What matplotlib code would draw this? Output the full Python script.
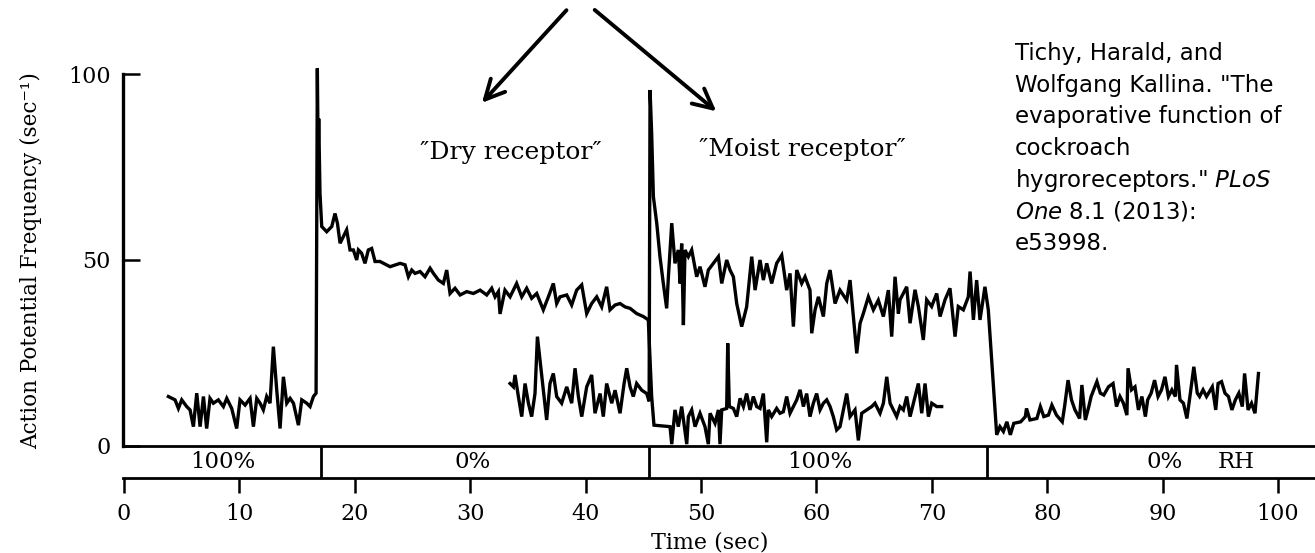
import matplotlib
matplotlib.use('Agg')
import matplotlib.pyplot as plt

# dry receptor trace (time in s, frequency in 1/s)
dry_wet1 = [(3.84, 13.3), (4.42, 12.4), (4.71, 10.1), (5.0, 12.4), (5.43, 10.6), (5.72, 9.7),
            (6.01, 5.2), (6.3, 14.2), (6.59, 5.2), (6.88, 13.3), (7.16, 4.7), (7.45, 12.8),
            (7.74, 11.5), (8.17, 12.4), (8.61, 10.6), (8.9, 12.8), (9.33, 10.1), (9.76, 4.7),
            (10.05, 12.4), (10.49, 11.0), (10.92, 12.8), (11.21, 5.2), (11.5, 12.8), (11.79, 11.5),
            (12.07, 9.7), (12.36, 13.3), (12.65, 11.5), (12.94, 26.7), (13.23, 15.1), (13.52, 4.7),
            (13.81, 18.6), (14.1, 11.5), (14.39, 12.8), (14.68, 11.5), (15.11, 5.6), (15.4, 12.4),
            (15.83, 11.5), (16.12, 10.6), (16.41, 13.3), (16.64, 14.2)]
dry_dry = [(16.75, 101.5), (16.82, 78.0), (16.87, 88.0), (16.98, 67.9), (17.13, 59.0), (17.56, 57.6),
           (18.0, 59.0), (18.28, 62.5), (18.49, 59.9), (18.72, 54.5), (19.0, 56.3), (19.29, 58.1),
           (19.58, 52.7), (19.87, 52.7), (20.16, 50.0), (20.31, 52.7), (20.59, 51.8), (20.88, 49.1),
           (21.17, 52.7), (21.46, 53.1), (21.75, 49.6), (22.18, 49.6), (23.05, 48.2), (23.92, 49.1),
           (24.35, 48.7), (24.64, 45.5), (24.93, 47.3), (25.22, 46.4), (25.65, 46.9), (26.08, 45.5),
           (26.52, 47.8), (26.81, 46.4), (27.24, 44.6), (27.67, 43.7), (27.96, 47.3), (28.25, 41.0),
           (28.68, 42.4), (29.12, 40.6), (29.69, 41.5), (30.27, 41.0), (30.85, 41.9), (31.43, 40.6),
           (31.86, 42.4), (32.15, 40.1), (32.44, 41.5), (32.58, 35.5), (33.01, 41.9), (33.45, 40.1),
           (34.02, 43.7), (34.46, 40.1), (34.89, 42.4), (35.32, 39.7), (35.76, 41.0), (36.33, 36.6),
           (36.77, 40.1), (37.2, 43.7), (37.49, 38.3), (37.78, 40.1), (38.36, 40.6), (38.79, 37.9),
           (39.22, 41.9), (39.66, 43.3), (40.09, 35.6), (40.52, 38.3), (40.96, 40.1), (41.39, 37.4),
           (41.82, 42.8), (42.11, 36.6), (42.55, 37.9), (42.98, 38.3), (43.41, 37.4), (43.85, 37.0),
           (44.42, 35.6), (45.0, 34.8), (45.43, 33.9)]
dry_wet2 = [(45.72, 13.3), (45.92, 5.6), (47.31, 5.2), (47.46, 0.5), (47.74, 9.7), (48.03, 5.2),
            (48.32, 10.6), (48.76, 0.5), (48.9, 7.9), (49.19, 9.7), (49.48, 5.2), (49.91, 8.8),
            (50.34, 5.2), (50.63, 0.5), (50.78, 8.8), (51.21, 6.1), (51.5, 9.7), (51.64, 0.5),
            (51.79, 9.7), (52.22, 10.1), (52.31, 27.6), (52.45, 10.6), (52.8, 10.1), (53.09, 7.9),
            (53.38, 12.8), (53.67, 10.6), (53.95, 14.1), (54.24, 9.7), (54.53, 13.3), (54.82, 10.6),
            (55.11, 10.1), (55.4, 14.1), (55.69, 1.0), (55.83, 9.7), (56.12, 7.9), (56.55, 10.1),
            (56.84, 8.8), (57.13, 9.2), (57.42, 13.3), (57.71, 8.8), (58.0, 10.6), (58.29, 12.4),
            (58.58, 15.1), (58.87, 10.6), (59.15, 14.1), (59.44, 7.9), (59.73, 11.5), (60.02, 14.1),
            (60.31, 9.7), (60.6, 11.5), (60.89, 12.4), (61.18, 10.6), (61.46, 7.9), (61.75, 4.3),
            (62.04, 5.2), (62.33, 9.7), (62.62, 14.1), (62.91, 7.9), (63.34, 9.7), (63.63, 1.5),
            (63.92, 8.8), (64.35, 9.7), (64.79, 10.6), (65.07, 11.5), (65.51, 8.8), (65.8, 11.5),
            (66.09, 18.6), (66.38, 11.5), (66.66, 9.7), (66.95, 7.9), (67.24, 10.6), (67.53, 9.7),
            (67.82, 13.3), (68.11, 7.9), (68.4, 11.5), (68.83, 16.8), (69.12, 8.8), (69.41, 16.8),
            (69.7, 7.9), (69.99, 11.5), (70.42, 10.6), (70.85, 10.6)]

# moist receptor trace
moist_dry1 = [(33.45, 16.8), (33.74, 15.9), (33.88, 19.1), (34.17, 13.3), (34.46, 7.9), (34.75, 16.8),
              (35.04, 11.5), (35.32, 7.9), (35.61, 14.1), (35.82, 29.4), (36.62, 7.0), (36.91, 16.8),
              (37.2, 19.5), (37.49, 13.3), (37.92, 11.5), (38.36, 15.9), (38.79, 11.5), (39.08, 20.9),
              (39.37, 13.3), (39.66, 7.9), (40.09, 15.9), (40.52, 19.1), (40.81, 8.8), (41.25, 14.1),
              (41.53, 7.9), (41.82, 16.8), (42.26, 11.5), (42.55, 15.0), (42.98, 8.8), (43.33, 16.8),
              (43.56, 20.9), (43.85, 15.9), (44.13, 13.3), (44.42, 16.8), (44.86, 15.0), (45.29, 14.1),
              (45.5, 12.0)]
moist_wet = [(45.58, 95.7), (45.72, 84.0), (45.87, 67.0), (46.16, 59.9), (46.44, 50.9), (46.73, 43.7),
             (47.02, 37.0), (47.17, 45.5), (47.46, 59.9), (47.74, 49.1), (48.03, 52.7), (48.18, 43.7),
             (48.32, 54.4), (48.47, 32.5), (48.61, 52.7), (48.9, 50.9), (49.19, 52.7), (49.62, 45.5),
             (49.91, 48.2), (50.34, 42.8), (50.63, 47.3), (51.07, 49.1), (51.5, 50.9), (51.79, 43.7),
             (52.22, 50.0), (52.51, 47.3), (52.8, 45.5), (53.09, 38.3), (53.52, 32.1), (53.95, 37.4),
             (54.39, 50.9), (54.68, 41.9), (55.11, 50.0), (55.4, 44.6), (55.69, 49.1), (56.12, 43.7),
             (56.55, 49.1), (56.99, 51.3), (57.42, 41.9), (57.71, 46.4), (58.0, 32.1), (58.29, 47.3),
             (58.72, 43.7), (59.01, 45.5), (59.44, 41.9), (59.59, 30.3), (59.88, 36.6), (60.17, 40.1),
             (60.6, 34.8), (60.89, 43.7), (61.18, 47.3), (61.61, 38.3), (62.04, 41.9), (62.62, 39.2),
             (62.91, 44.6), (63.2, 34.8), (63.49, 24.9), (63.78, 33.0), (64.06, 35.6), (64.5, 40.1),
             (64.93, 36.6), (65.36, 39.2), (65.8, 34.8), (66.23, 41.9), (66.52, 29.4), (66.81, 45.5),
             (67.1, 35.6), (67.24, 39.3), (67.82, 42.8), (68.11, 33.0), (68.54, 42.0), (68.83, 37.5),
             (69.26, 28.5), (69.55, 39.3), (69.98, 37.5), (70.42, 41.0), (70.71, 34.8), (71.14, 39.3),
             (71.57, 42.4), (72.01, 29.4), (72.29, 37.5), (72.73, 36.6), (73.16, 40.1), (73.31, 46.9),
             (73.6, 33.9), (73.88, 44.6), (74.17, 33.9), (74.6, 42.8), (74.89, 36.6)]
moist_dry2 = [(75.62, 3.0), (75.9, 5.2), (76.2, 3.9), (76.5, 6.5), (76.8, 3.0), (77.1, 6.1), (77.7, 6.5),
              (78.1, 7.9), (78.2, 10.1), (78.5, 7.0), (79.1, 7.4), (79.4, 10.6), (79.7, 7.9), (80.1, 8.3),
              (80.4, 11.0), (80.8, 8.3), (81.3, 6.5), (81.5, 10.6), (81.8, 17.7), (82.1, 12.4), (82.4, 9.7),
              (82.8, 7.4), (83.0, 16.4), (83.3, 7.0), (83.6, 10.6), (83.8, 13.3), (84.3, 17.3), (84.6, 14.2),
              (84.9, 13.7), (85.3, 15.9), (85.7, 16.8), (86.0, 10.6), (86.3, 13.3), (86.6, 11.5), (86.9, 8.3),
              (87.0, 20.9), (87.3, 15.1), (87.6, 15.9), (87.9, 9.7), (88.2, 13.3), (88.5, 7.9), (88.7, 12.4),
              (89.0, 14.2), (89.3, 17.7), (89.6, 13.3), (89.9, 15.1), (90.2, 18.6), (90.5, 13.3), (90.8, 15.1),
              (91.1, 13.3), (91.2, 21.8), (91.5, 12.4), (91.8, 11.5), (92.1, 7.4), (92.4, 14.2), (92.7, 21.3),
              (93.0, 14.2), (93.2, 13.3), (93.5, 15.1), (93.8, 13.3), (94.3, 15.9), (94.6, 9.7), (94.8, 16.8),
              (95.1, 17.3), (95.4, 14.2), (95.7, 13.3), (96.0, 9.7), (96.3, 12.4), (96.6, 14.2), (96.9, 10.6),
              (97.1, 19.5), (97.4, 9.7), (97.7, 11.5), (98.0, 8.8), (98.3, 19.5)]

rh_bounds = [17.1, 45.5, 74.8]
rh_labels = ['100%', '0%', '100%', '0%']
x_ticks = list(range(0, 101, 10))
y_ticks = [0, 50, 100]

citation = ['Tichy, Harald, and', 'Wolfgang Kallina. "The', 'evaporative function of',
            'cockroach', 'hygroreceptors." $\\mathit{PLoS}$', '$\\mathit{One}$ 8.1 (2013):', 'e53998.']

W, H = 1315, 553
serif = ['DejaVu Serif', 'DejaVu Sans']
fig = plt.figure(figsize=(W / 100, H / 100), dpi=100)
xlim = (-0.09, 103.2)

ax = fig.add_axes([123 / W, (H - 446) / H, (W - 123) / W, 372 / H])
ax.set_xlim(*xlim)
ax.set_ylim(0, 100)
ax.spines['top'].set_visible(False)
ax.spines['right'].set_visible(False)
ax.spines['left'].set_linewidth(2.4)
ax.spines['bottom'].set_linewidth(2.0)
ax.set_xticks([])
ax.set_yticks(y_ticks)
ax.tick_params(axis='y', direction='in', length=12, width=1.8, labelsize=16, pad=9)
for lab in ax.get_yticklabels():
    lab.set_family(serif)

traces = [dry_wet1 + dry_dry + dry_wet2, moist_dry1 + moist_wet + moist_dry2]
for tr in traces:
    t, v = zip(*tr)
    ax.plot(t, v, color='black', lw=2.4, clip_on=False, solid_joinstyle='miter')

ax.text(33.5, 79, '\u2033Dry receptor\u2033', fontsize=18, family=serif, ha='center', va='center')
ax.text(58.8, 79.6, '\u2033Moist receptor\u2033', fontsize=18, family=serif, ha='center', va='center')

arrow = dict(arrowstyle='->,head_length=0.7,head_width=0.35', lw=2.8, color='black', mutation_scale=20)
ax.annotate('', xy=(30.85, 91.7), xytext=(38.5, 117.7), arrowprops=arrow, annotation_clip=False)
ax.annotate('', xy=(51.5, 89.5), xytext=(40.6, 117.7), arrowprops=arrow, annotation_clip=False)

# humidity bar + time axis
bar = fig.add_axes([123 / W, (H - 478) / H, (W - 123) / W, 32 / H])
bar.set_facecolor('none')
bar.set_xlim(*xlim)
bar.set_ylim(0, 1)
for s in ['top', 'left', 'right']:
    bar.spines[s].set_visible(False)
bar.spines['bottom'].set_linewidth(2.0)
bar.set_yticks([])
bar.set_xticks(x_ticks)
bar.tick_params(axis='x', direction='out', length=11, width=1.8, labelsize=16, pad=7)
for lab in bar.get_xticklabels():
    lab.set_family(serif)
bar.vlines(rh_bounds, 0, 1, color='black', lw=2.0)
for m, lab in zip([8.6, 30.2, 60.3, 90.2], rh_labels):
    bar.text(m, 0.5, lab, fontsize=16.5, family=serif, ha='center', va='center')
bar.text(96.4, 0.5, 'RH', fontsize=16.5, family=serif, ha='center', va='center')

fig.text(710 / W, 1 - 542 / H, 'Time (sec)', fontsize=16, family=serif, ha='center', va='center')
fig.text(31 / W, 1 - 261 / H, 'Action Potential Frequency (sec\u207b\u00b9)', fontsize=15.5,
         family=serif, rotation=90, ha='center', va='center')

for i, line in enumerate(citation):
    fig.text(1015 / W, 1 - (60 + 31.7 * i) / H, line, fontsize=16.5, family='DejaVu Sans',
             ha='left', va='baseline')

fig.savefig('out.png', dpi=100)
